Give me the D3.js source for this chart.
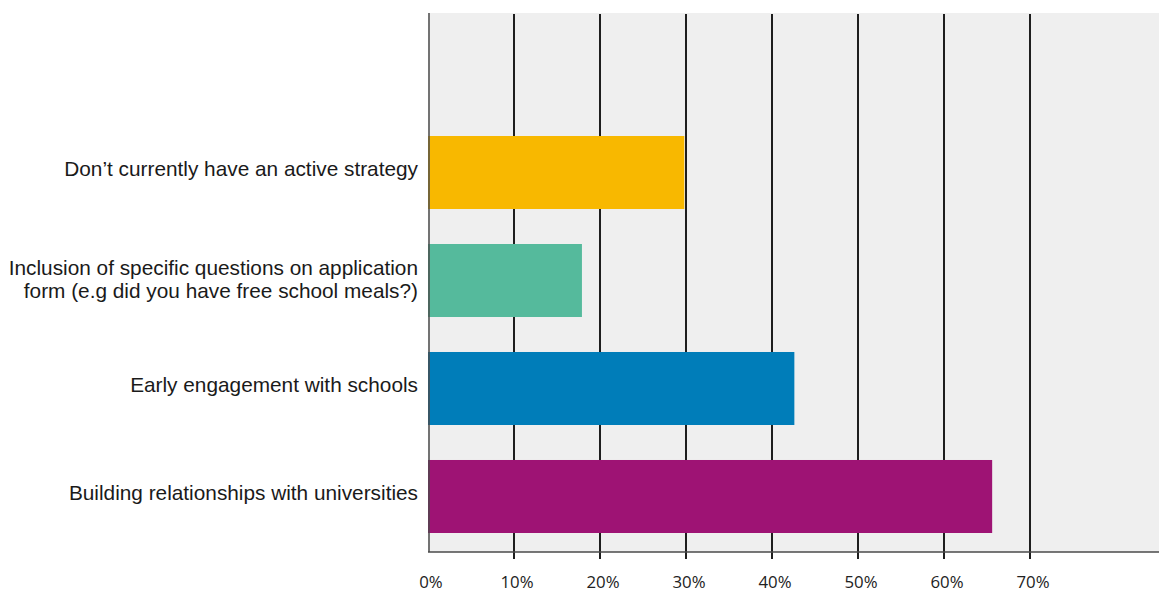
<!DOCTYPE html>
<html>
<head>
<meta charset="utf-8">
<script src="https://cdn.jsdelivr.net/npm/d3@7"></script>
<style>
  html, body { margin: 0; padding: 0; background: #ffffff; }
  svg { display: block; }
</style>
</head>
<body>
<svg id="chart" width="1159" height="594"></svg>
<script>
// Survey responses: share of respondents per strategy
const categories = [
  "Don\u2019t currently have an active strategy",
  "Inclusion of specific questions on application form (e.g did you have free school meals?)",
  "Early engagement with schools",
  "Building relationships with universities"
];
const labelLines = [
  ["Don\u2019t currently have an active strategy"],
  ["Inclusion of specific questions on application", "form (e.g did you have free school meals?)"],
  ["Early engagement with schools"],
  ["Building relationships with universities"]
];
const values = [0.298, 0.179, 0.426, 0.656];
const colors = ["#f8b800", "#55ba9c", "#007db9", "#9e1374"];
const tickValues = [0, 0.1, 0.2, 0.3, 0.4, 0.5, 0.6, 0.7];
const tickLabels = ["0%", "10%", "20%", "30%", "40%", "50%", "60%", "70%"];

const svg = d3.select("#chart");
const plot = { left: 428, right: 1159, top: 13, bottom: 552 };

const x = d3.scaleLinear().domain([0, 0.85]).range([plot.left, plot.right]);
const y = d3.scaleBand()
  .domain(categories)
  .range([117, plot.bottom])
  .paddingInner(0.324)
  .paddingOuter(0.176);

// plot background
svg.append("rect")
  .attr("x", plot.left).attr("y", plot.top)
  .attr("width", plot.right - plot.left).attr("height", plot.bottom - plot.top)
  .attr("fill", "#efefef");

// vertical gridlines, continuing below the baseline as ticks
svg.append("g")
  .selectAll("line")
  .data(tickValues.filter(d => d > 0))
  .join("line")
  .attr("x1", d => x(d)).attr("x2", d => x(d))
  .attr("y1", plot.top + 1).attr("y2", plot.bottom + 7)
  .attr("stroke", "#1e1e1e")
  .attr("stroke-width", 2);

// bars
svg.append("g")
  .selectAll("rect")
  .data(categories)
  .join("rect")
  .attr("x", x(0))
  .attr("y", d => y(d))
  .attr("width", (d, i) => x(values[i]) - x(0))
  .attr("height", y.bandwidth())
  .attr("fill", (d, i) => colors[i]);

// axis lines
svg.append("line")
  .attr("x1", plot.left + 1).attr("x2", plot.left + 1)
  .attr("y1", plot.top).attr("y2", plot.bottom)
  .attr("stroke", "#4a4a4a").attr("stroke-width", 1.5);
svg.append("line")
  .attr("x1", plot.left).attr("x2", plot.right)
  .attr("y1", plot.bottom).attr("y2", plot.bottom)
  .attr("stroke", "#4a4a4a").attr("stroke-width", 1.5);

// x tick labels
svg.append("g")
  .selectAll("text")
  .data(tickValues)
  .join("text")
  .attr("x", d => x(d) + 3)
  .attr("y", 588)
  .attr("text-anchor", "middle")
  .attr("font-family", "'Open Sans', sans-serif")
  .attr("font-size", 16.8)
  .attr("fill", "#222")
  .text((d, i) => tickLabels[i]);

// category labels, right-aligned beside each bar
const lineH = 23;
const lab = svg.append("g")
  .selectAll("text")
  .data(categories)
  .join("text")
  .attr("text-anchor", "end")
  .attr("font-family", "'Liberation Sans', Arial, sans-serif")
  .attr("font-size", 20.8)
  .attr("fill", "#1a1a1a");
lab.each(function (d, i) {
  const lines = labelLines[i];
  const cy = y(d) + y.bandwidth() / 2;
  const firstBase = cy + 3.3 - (lines.length - 1) * 9.1;
  d3.select(this).selectAll("tspan")
    .data(lines)
    .join("tspan")
    .attr("x", 418)
    .attr("y", (t, j) => firstBase + j * lineH)
    .text(t => t);
});
</script>
</body>
</html>
